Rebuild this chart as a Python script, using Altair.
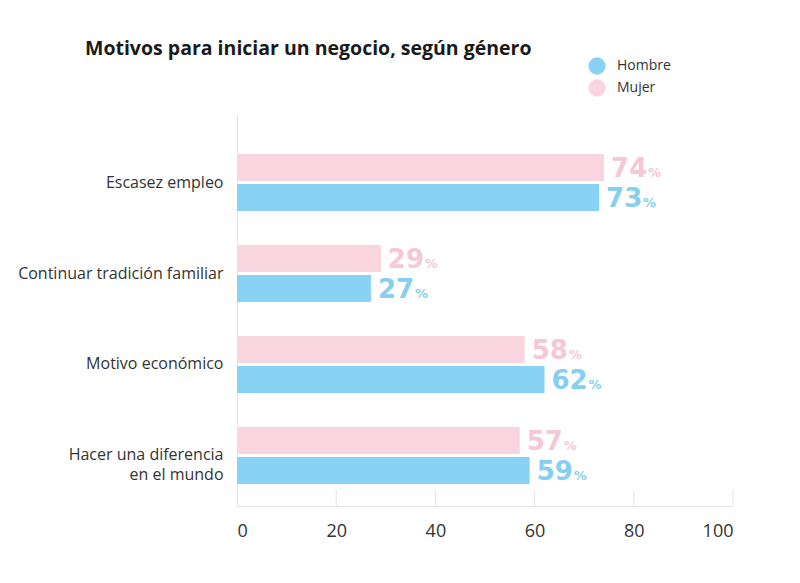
import altair as alt
import pandas as pd

categorias = ["Escasez empleo", "Continuar tradición familiar", "Motivo económico", "Hacer una diferencia en el mundo"]
hombre = [73, 27, 62, 59]
mujer = [74, 29, 58, 57]
generos = ["Hombre", "Mujer"]
ticks = [0, 20, 40, 60, 80, 100]

rows = []
for c, h, m in zip(categorias, hombre, mujer):
    rows.append({"cat": c, "genero": "Hombre", "valor": h})
    rows.append({"cat": c, "genero": "Mujer", "valor": m})
df = pd.DataFrame(rows)
df_ticks = pd.DataFrame({"t": ticks[1:]})

FONT = "Open Sans"
NUMFONT = "DejaVu Sans"
BLUE = "#88D3F3"
PINK = "#F9D5DF"
BLUE_T = "#86CFEE"
PINK_T = "#F6C7D5"
W, H = 496, 392

y_enc = alt.Y("cat:N", sort=categorias, title=None,
              scale=alt.Scale(paddingInner=0.374, paddingOuter=0.341, align=0.645),
              axis=alt.Axis(domainColor="#e4e4e4", ticks=False, labelFontSize=16,
                            labelColor="#333333", labelFont=FONT, labelPadding=14,
                            labelLineHeight=20, labelLimit=300,
                            labelExpr="datum.label == 'Hacer una diferencia en el mundo' ? ['Hacer una diferencia', 'en el mundo'] : datum.label"))
yoff = alt.YOffset("genero:N", sort=["Mujer", "Hombre"],
                   scale=alt.Scale(paddingInner=0.1, paddingOuter=0))
x_enc = alt.X("valor:Q", title=None,
              scale=alt.Scale(domain=[0, 100]),
              axis=alt.Axis(values=ticks, grid=False, ticks=False, domainColor="#e4e4e4",
                            labelFontSize=18, labelColor="#333333", labelFont=FONT,
                            labelPadding=16))

bars = alt.Chart(df).mark_bar().encode(
    x=x_enc, y=y_enc, yOffset=yoff,
    color=alt.Color("genero:N", title=None,
                    scale=alt.Scale(domain=generos, range=[BLUE, PINK]),
                    legend=alt.Legend(orient="none", legendX=351, legendY=-57,
                                      symbolType="circle", symbolSize=300,
                                      symbolStrokeWidth=0, labelFontSize=14,
                                      labelColor="#333333", labelFont=FONT,
                                      labelOffset=11, rowPadding=4, padding=0)),
)

nums = alt.Chart(df).mark_text(align="left", baseline="alphabetic", dx=7, dy=9.5,
                               fontSize=26, fontWeight="bold", font=NUMFONT).encode(
    x="valor:Q", y=alt.Y("cat:N", sort=categorias), yOffset=yoff,
    text=alt.Text("valor:Q"),
    color=alt.Color("genero:N", scale=alt.Scale(domain=generos, range=[BLUE_T, PINK_T]), legend=None),
)
pct = alt.Chart(df).mark_text(align="left", baseline="alphabetic", dx=44, dy=9.5,
                              fontSize=13, fontWeight="bold", font=NUMFONT, text="%").encode(
    x="valor:Q", y=alt.Y("cat:N", sort=categorias), yOffset=yoff,
    color=alt.Color("genero:N", scale=alt.Scale(domain=generos, range=[BLUE_T, PINK_T]), legend=None),
)

tick_rules = alt.Chart(df_ticks).mark_rule(color="#e4e4e4", strokeWidth=1).encode(
    x="t:Q", y=alt.value(H - 16), y2=alt.value(H)
)

chart = alt.layer(tick_rules, bars, nums, pct).resolve_scale(color="independent").properties(
    width=W, height=H, background="white",
    title=alt.TitleParams("Motivos para iniciar un negocio, según género", anchor="start",
                          frame="group", dx=-152, fontSize=19.5, fontWeight="bold", font=FONT,
                          color="#1a1a1a", offset=-2),
    padding={"left": 9, "top": 30, "right": 5, "bottom": 5},
).configure_view(strokeWidth=0)

chart.save("out.html", embed_options={"renderer": "svg", "actions": False})
